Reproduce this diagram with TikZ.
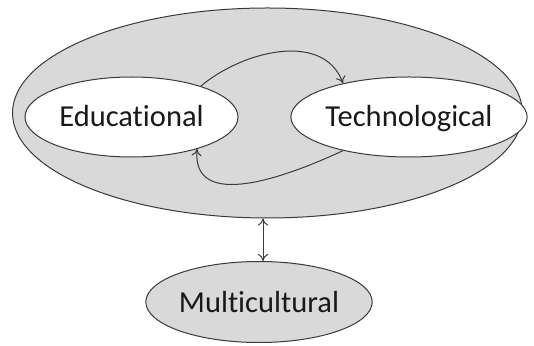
\documentclass[tikz,border=0pt]{standalone}
\usepackage{fontspec}
\setmainfont[Ligatures=NoCommon]{Carlito}
\usetikzlibrary{shapes.geometric,arrows.meta}
\definecolor{shade}{HTML}{D9D9D9}
\definecolor{edge}{HTML}{3A3A3A}
\begin{document}
\begin{tikzpicture}[x=1pt,y=1pt,
  blob/.style={draw=edge,line width=1pt,ellipse,inner sep=0pt},
  lbl/.style={font=\fontsize{30.5}{33}\selectfont,text height=24pt,text depth=4pt,text=black!90},
  conn/.style={draw=edge,line width=1pt,-{To[length=7pt,width=10pt]}}]
\useasboundingbox (0,0) rectangle (534,345);
\node[blob,fill=shade,minimum width=510,minimum height=210] (big) at (267.5,232) {};
\node[blob,fill=white,minimum width=213,minimum height=80,lbl] (edu) at (131.5,228) {Educational};
\node[blob,fill=white,minimum width=218,minimum height=80,lbl] (tech) at (409,228) {Technological};
\node[blob,fill=shade,minimum width=218,minimum height=81,lbl] (multi) at (259,43) {Multicultural};
\draw[conn] (edu.24) to[out=40,in=110] (tech.153);
\draw[conn] (tech.207) to[out=205,in=-95,looseness=1.1] (edu.-26);
\draw[draw=edge,line width=1pt,{To[length=7pt,width=10pt]}-{To[length=7pt,width=10pt]}] ([xshift=4pt]multi.north) -- ([xshift=4pt]multi.north |- big.south);
\end{tikzpicture}
\end{document}
